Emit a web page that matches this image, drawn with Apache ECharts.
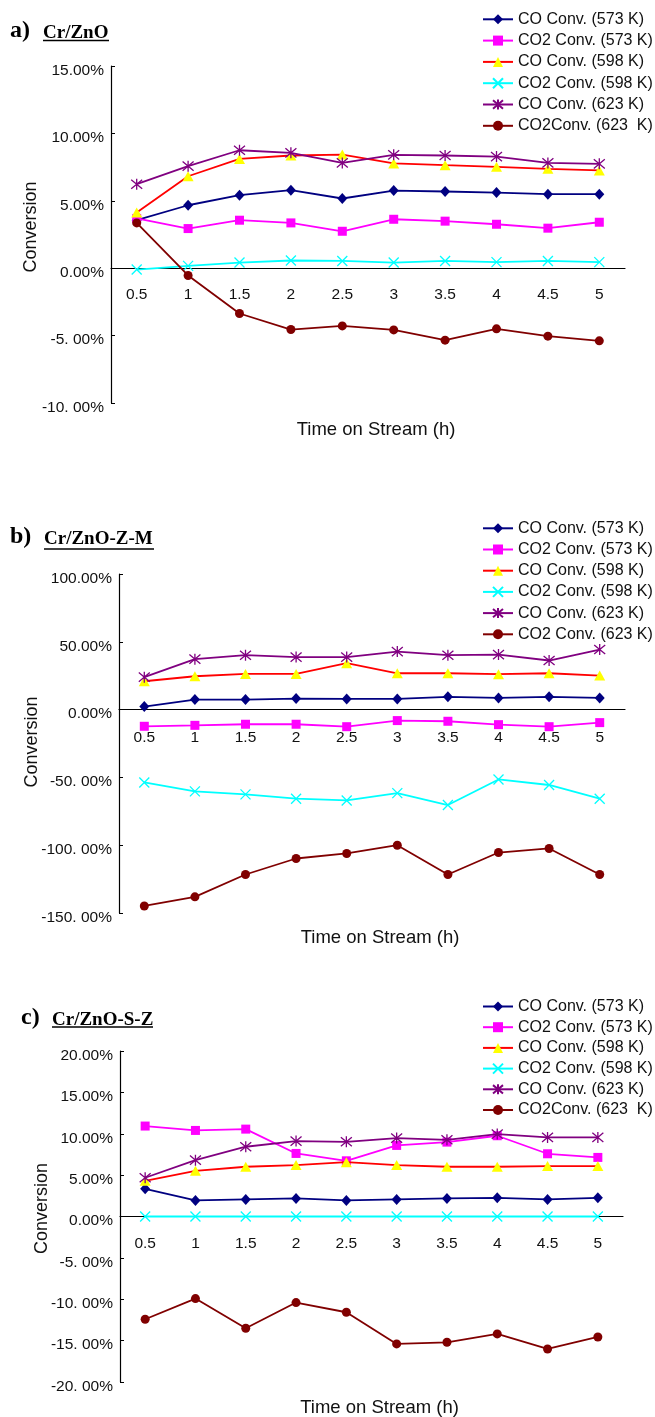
<!DOCTYPE html>
<html>
<head>
<meta charset="utf-8">
<script src="https://cdn.jsdelivr.net/npm/echarts@6/dist/echarts.min.js"></script>
<style>
html,body{margin:0;padding:0;background:#fff;}
#chart{width:655px;height:1417px;}
</style>
</head>
<body>
<div id="chart"></div>
<script>
// ---------- DATA ----------
const categories = ['0.5','1','1.5','2','2.5','3','3.5','4','4.5','5'];

const namesA = ['CO Conv. (573 K)','CO2 Conv. (573 K)','CO Conv. (598 K)','CO2 Conv. (598 K)','CO Conv. (623 K)','CO2Conv. (623  K)'];
const namesB = ['CO Conv. (573 K)','CO2 Conv. (573 K)','CO Conv. (598 K)','CO2 Conv. (598 K)','CO Conv. (623 K)','CO2 Conv. (623 K)'];
const namesC = ['CO Conv. (573 K)','CO2 Conv. (573 K)','CO Conv. (598 K)','CO2 Conv. (598 K)','CO Conv. (623 K)','CO2Conv. (623  K) '];

// Panel a) Cr/ZnO  (% conversion)
const a_co573   = [3.56, 4.67, 5.42, 5.79, 5.17, 5.76, 5.69, 5.61, 5.49, 5.49];
const a_co2_573 = [3.69, 2.94, 3.56, 3.36, 2.74, 3.63, 3.49, 3.26, 2.97, 3.41];
const a_co598   = [4.13, 6.82, 8.11, 8.36, 8.43, 7.77, 7.64, 7.52, 7.37, 7.25];
const a_co2_598 = [-0.10, 0.17, 0.42, 0.57, 0.54, 0.42, 0.54, 0.45, 0.54, 0.45];
const a_co623   = [6.23, 7.57, 8.75, 8.56, 7.81, 8.41, 8.36, 8.28, 7.81, 7.74];
const a_co2_623 = [3.36, -0.54, -3.36, -4.55, -4.28, -4.58, -5.34, -4.50, -5.04, -5.39];
const ticksA = ['-10. 00%','-5. 00%','0.00%','5.00%','10.00%','15.00%'];

// Panel b) Cr/ZnO-Z-M
const b_co573   = [2.2, 7.4, 7.4, 8.1, 7.9, 7.9, 9.4, 8.6, 9.4, 8.6];
const b_co2_573 = [-12.3, -11.6, -10.8, -10.8, -12.6, -8.1, -8.6, -11.1, -12.6, -9.6];
const b_co598   = [20.9, 24.6, 26.3, 26.3, 34.2, 26.8, 26.8, 26.1, 26.8, 25.1];
const b_co2_598 = [-53.7, -60.3, -62.5, -65.7, -67.0, -61.6, -70.4, -51.5, -55.6, -65.7];
const b_co623   = [23.9, 37.2, 40.1, 38.7, 38.7, 42.8, 40.1, 40.6, 36.2, 44.3];
const b_co2_623 = [-144.8, -138.1, -121.6, -109.8, -106.1, -100.0, -121.6, -105.4, -102.4, -121.6];
const ticksB = ['-150. 00%','-100. 00%','-50. 00%','0.00%','50.00%','100.00%'];

// Panel c) Cr/ZnO-S-Z
const c_co573   = [3.35, 1.94, 2.06, 2.18, 1.94, 2.06, 2.18, 2.26, 2.06, 2.26];
const c_co2_573 = [10.93, 10.40, 10.56, 7.62, 6.73, 8.59, 8.99, 9.76, 7.58, 7.14];
const c_co598   = [4.31, 5.52, 6.01, 6.21, 6.57, 6.21, 6.01, 6.01, 6.09, 6.09];
const c_co2_598 = [0.0, 0.0, 0.0, 0.0, 0.0, 0.0, 0.0, 0.0, 0.0, 0.0];
const c_co623   = [4.68, 6.81, 8.43, 9.11, 9.03, 9.48, 9.27, 9.96, 9.56, 9.56];
const c_co2_623 = [-12.42, -9.92, -13.51, -10.40, -11.57, -15.40, -15.20, -14.19, -16.01, -14.56];
const ticksC = ['-20. 00%','-15. 00%','-10. 00%','-5. 00%','0.00%','5.00%','10.00%','15.00%','20.00%'];

// ---------- STYLE ----------
const SANS = 'Liberation Sans, Arial, sans-serif';
const SERIF = 'Liberation Serif, Times New Roman, serif';
const X_PATH = 'path://M0,0L10,10M10,0L0,10';
const STAR_PATH = 'path://M0,0L10,10M10,0L0,10M5,-1L5,11';

const styles = [
  {color:'#000080', symbol:'diamond', size:[10,11], fill:'#000080'},
  {color:'#FF00FF', symbol:'rect', size:9, fill:'#FF00FF'},
  {color:'#FF0000', symbol:'triangle', size:[11,10], fill:'#FFFF00'},
  {color:'#00FFFF', symbol:X_PATH, size:10, fill:'#00FFFF', stroke:true},
  {color:'#800080', symbol:STAR_PATH, size:11, fill:'#800080', stroke:true},
  {color:'#800000', symbol:'circle', size:9, fill:'#800000'}
];

function makeSeries(idx, names, arrays){
  return arrays.map((d, i) => {
    const s = styles[i];
    const itemStyle = {color: s.fill};
    if (s.stroke) { itemStyle.borderColor = s.color; itemStyle.borderWidth = 1.3; }
    return {
      type:'line', name:names[i], xAxisIndex:idx, yAxisIndex:idx, data:d,
      symbol:s.symbol, symbolSize:s.size, showSymbol:true,
      lineStyle:{color:s.color, width:1.8},
      itemStyle:itemStyle,
      emphasis:{disabled:true}, animation:false, z: 2 + i
    };
  });
}

const grids = [
  {left:111, top:66, width:514, height:337, outerBoundsMode:'none', containLabel:false},
  {left:119, top:574, width:506, height:339, outerBoundsMode:'none', containLabel:false},
  {left:120, top:1051, width:503, height:331, outerBoundsMode:'none', containLabel:false}
];
const yCfg = [
  {min:-10, max:15, interval:5, ticks:ticksA},
  {min:-150, max:100, interval:50, ticks:ticksB},
  {min:-20, max:20, interval:5, ticks:ticksC}
];
const xNameGap = [152.5, 219, 181.5];
const xLabelMargin = [19, 20, 19];
const yNameGap = [71, 78, 69];
const yNamePad = [[0,0,0,15],[0,0,0,3],[0,0,0,16]];

// x axis sits on the zero line of its value axis (moved up from the grid bottom)
const xAxes = grids.map((g, i) => {
  const c = yCfg[i];
  const zeroShift = (0 - c.min) / (c.max - c.min) * g.height;
  return {
    type:'category', gridIndex:i, data:categories, boundaryGap:true, position:'bottom',
    offset:-zeroShift,
    axisLine:{onZero:false, lineStyle:{color:'#000', width:1.2}},
    axisTick:{inside:true, length:5, lineStyle:{color:'#000'}},
    axisLabel:{interval:0, margin:xLabelMargin[i], fontSize:15.5, color:'#111', fontFamily:SANS},
    name:'Time on Stream (h)', nameLocation:'middle', nameGap:xNameGap[i], nameMoveOverlap:false,
    nameTextStyle:{fontSize:18.5, color:'#111', fontFamily:SANS, padding:[0,0,0,16]},
    splitLine:{show:false}
  };
});

const yAxes = grids.map((g, i) => {
  const c = yCfg[i];
  return {
    type:'value', gridIndex:i, min:c.min, max:c.max, interval:c.interval,
    axisLine:{show:true, onZero:false, lineStyle:{color:'#000', width:1.2}},
    axisTick:{show:true, inside:true, length:4, lineStyle:{color:'#000'}},
    axisLabel:{margin:7, color:'#111', fontFamily:SANS, fontSize:15.5,
      formatter:(v) => '{t|' + c.ticks[Math.round((v - c.min) / c.interval)] + '}',
      rich:{t:{fontSize:15.5, color:'#111', fontFamily:SANS, padding:[9,0,0,0]}}},
    splitLine:{show:false},
    name:'Conversion', nameLocation:'middle', nameGap:yNameGap[i], nameRotate:90, nameMoveOverlap:false,
    nameTextStyle:{fontSize:18, color:'#111', fontFamily:SANS, padding:yNamePad[i]}
  };
});

const legendTops = [11.3, 520.3, 998.5];
const legendGaps = [5.3, 5.2, 4.7];
const allNames = [namesA, namesB, namesC];
const legends = legendTops.map((t, i) => ({
  orient:'vertical', left:482, top:t, padding:0, itemWidth:30, itemHeight:12.5, itemGap:legendGaps[i],
  data:allNames[i], selectedMode:false,
  textStyle:{fontSize:16, color:'#111', fontFamily:SANS, lineHeight:16}
}));

const series = [].concat(
  makeSeries(0, namesA, [a_co573, a_co2_573, a_co598, a_co2_598, a_co623, a_co2_623]),
  makeSeries(1, namesB, [b_co573, b_co2_573, b_co598, b_co2_598, b_co623, b_co2_623]),
  makeSeries(2, namesC, [c_co573, c_co2_573, c_co598, c_co2_598, c_co623, c_co2_623])
);

// titles
const titles = [
  {lab:'a)', labX:10, name:'Cr/ZnO', nameX:43, y:32, uy:40.5, uw:66},
  {lab:'b)', labX:10, name:'Cr/ZnO-Z-M', nameX:44, y:538, uy:549, uw:110},
  {lab:'c)', labX:21, name:'Cr/ZnO-S-Z', nameX:52, y:1019, uy:1027, uw:101}
];
const graphic = [];
titles.forEach(t => {
  graphic.push({type:'text', left:t.labX, top:t.y - 13, style:{text:t.lab, font:'bold 24px ' + SERIF, fill:'#000'}});
  graphic.push({type:'text', left:t.nameX, top:t.y - 8, style:{text:t.name, font:'bold 19px ' + SERIF, fill:'#000'}});
  graphic.push({type:'line', shape:{x1:t.nameX, y1:t.uy, x2:t.nameX + t.uw, y2:t.uy}, style:{stroke:'#000', lineWidth:1.5}});
});

const chart = echarts.init(document.getElementById('chart'), null, {renderer:'canvas'});
chart.setOption({
  backgroundColor:'#fff',
  animation:false,
  grid:grids,
  xAxis:xAxes,
  yAxis:yAxes,
  legend:legends,
  series:series,
  graphic:graphic
});
</script>
</body>
</html>
